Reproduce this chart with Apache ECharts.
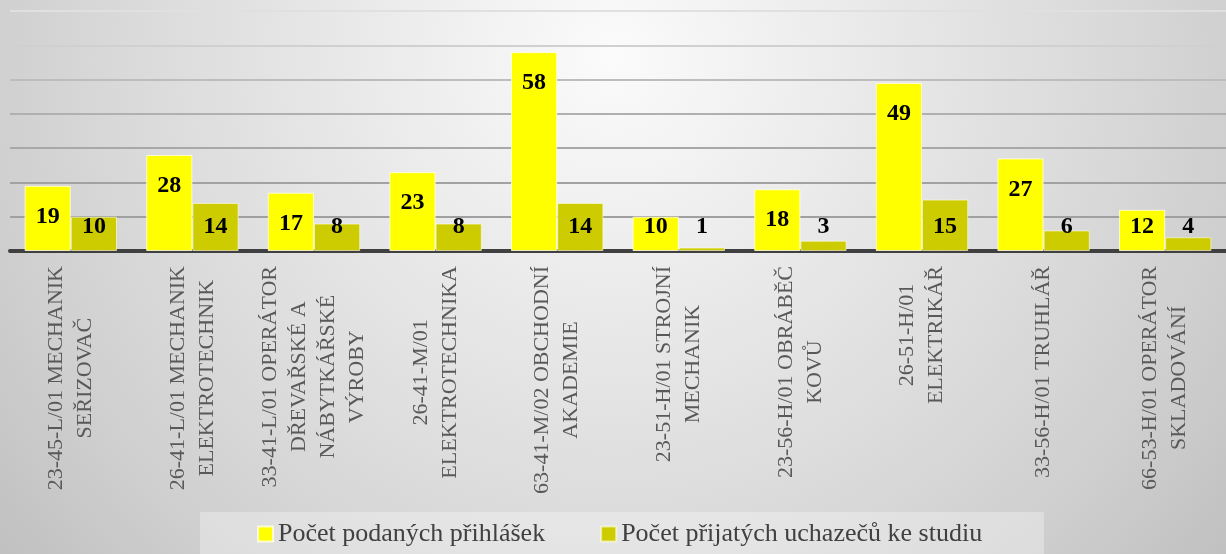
<!DOCTYPE html>
<html>
<head>
<meta charset="utf-8">
<script src="https://cdn.jsdelivr.net/npm/echarts@6/dist/echarts.min.js"></script>
<style>
html,body{margin:0;padding:0;}
#chart{width:1226px;height:554px;}
</style>
</head>
<body>
<div id="chart"></div>
<script>
const categories = [
  '23-45-L/01 MECHANIK\nSEŘIZOVAČ',
  '26-41-L/01 MECHANIK\nELEKTROTECHNIK',
  '33-41-L/01 OPERÁTOR\nDŘEVAŘSKÉ A\nNÁBYTKÁŘSKÉ\nVÝROBY',
  '26-41-M/01\nELEKTROTECHNIKA',
  '63-41-M/02 OBCHODNÍ\nAKADEMIE',
  '23-51-H/01 STROJNÍ\nMECHANIK',
  '23-56-H/01 OBRÁBĚČ\nKOVŮ',
  '26-51-H/01\nELEKTRIKÁŘ',
  '33-56-H/01 TRUHLÁŘ',
  '66-53-H/01 OPERÁTOR\nSKLADOVÁNÍ'
];
const seriesNames = ['Počet podaných přihlášek', 'Počet přijatých uchazečů ke studiu'];
const applications = [19, 28, 17, 23, 58, 10, 18, 49, 27, 12];
const admitted = [10, 14, 8, 8, 14, 1, 3, 15, 6, 4];

const serif = '"Liberation Serif", "DejaVu Serif", serif';
const labelBase = {show: true, color: '#000', fontWeight: 'bold', fontFamily: serif, fontSize: 24};
const topLabel = Object.assign({}, labelBase, {position: 'insideTop', distance: 19});
const bottomLabel = Object.assign({}, labelBase, {position: 'insideBottom', distance: 12});
function toData(vals) {
  return vals.map(v => ({value: v, label: v >= 16 ? topLabel : bottomLabel}));
}

const chart = echarts.init(document.getElementById('chart'));
chart.setOption({
  backgroundColor: {
    type: 'radial', x: 0.5, y: 0.1, r: 1.45,
    colorStops: [
      {offset: 0, color: '#fbfbfb'},
      {offset: 0.6, color: '#dadada'},
      {offset: 0.8, color: '#cecece'},
      {offset: 1, color: '#bfbfbf'}
    ]
  },
  animation: false,
  grid: {left: 10, right: 0, top: 11, bottom: 303, containLabel: false},
  legend: {
    left: 200,
    bottom: -2,
    itemWidth: 15,
    itemHeight: 15,
    itemGap: 55,
    icon: 'rect',
    padding: [9, 62, 9, 57],
    backgroundColor: 'rgba(255,255,255,0.3)',
    textStyle: {fontFamily: serif, fontSize: 26, color: '#404040'},
    data: seriesNames
  },
  xAxis: {
    type: 'category',
    data: categories,
    axisLine: {show: true, lineStyle: {color: '#404040', width: 4}},
    axisTick: {show: false},
    axisLabel: {
      rotate: 90,
      interval: 0,
      margin: 15,
      color: '#595959',
      fontFamily: serif,
      fontSize: 22,
      lineHeight: 29,
      formatter: function (v) {
        return v.split('\n').map(l => '{c|' + l + '}').join('\n');
      },
      rich: {
        c: {align: 'center', fontFamily: serif, fontSize: 22, lineHeight: 29, color: '#595959'}
      }
    }
  },
  yAxis: {
    type: 'value',
    min: 0,
    max: 70,
    interval: 10,
    axisLabel: {show: false},
    axisLine: {show: false},
    axisTick: {show: false},
    splitLine: {
      show: true,
      lineStyle: {
        width: 2,
        color: ['#a0a0a0', '#a0a0a0', '#a2a2a2', '#a8a8a8', '#b0b0b0', '#bdbdbd', '#d0d0d0', '#e0e0e0']
      }
    }
  },
  series: [
    {
      name: seriesNames[0],
      type: 'bar',
      data: toData(applications),
      barGap: '0%',
      barCategoryGap: '24%',
      itemStyle: {color: '#ffff00', borderColor: 'rgba(255,255,230,0.8)', borderWidth: 1}
    },
    {
      name: seriesNames[1],
      type: 'bar',
      data: toData(admitted),
      itemStyle: {color: '#cccc00', borderColor: 'rgba(255,255,230,0.6)', borderWidth: 1}
    }
  ]
});
</script>
</body>
</html>
